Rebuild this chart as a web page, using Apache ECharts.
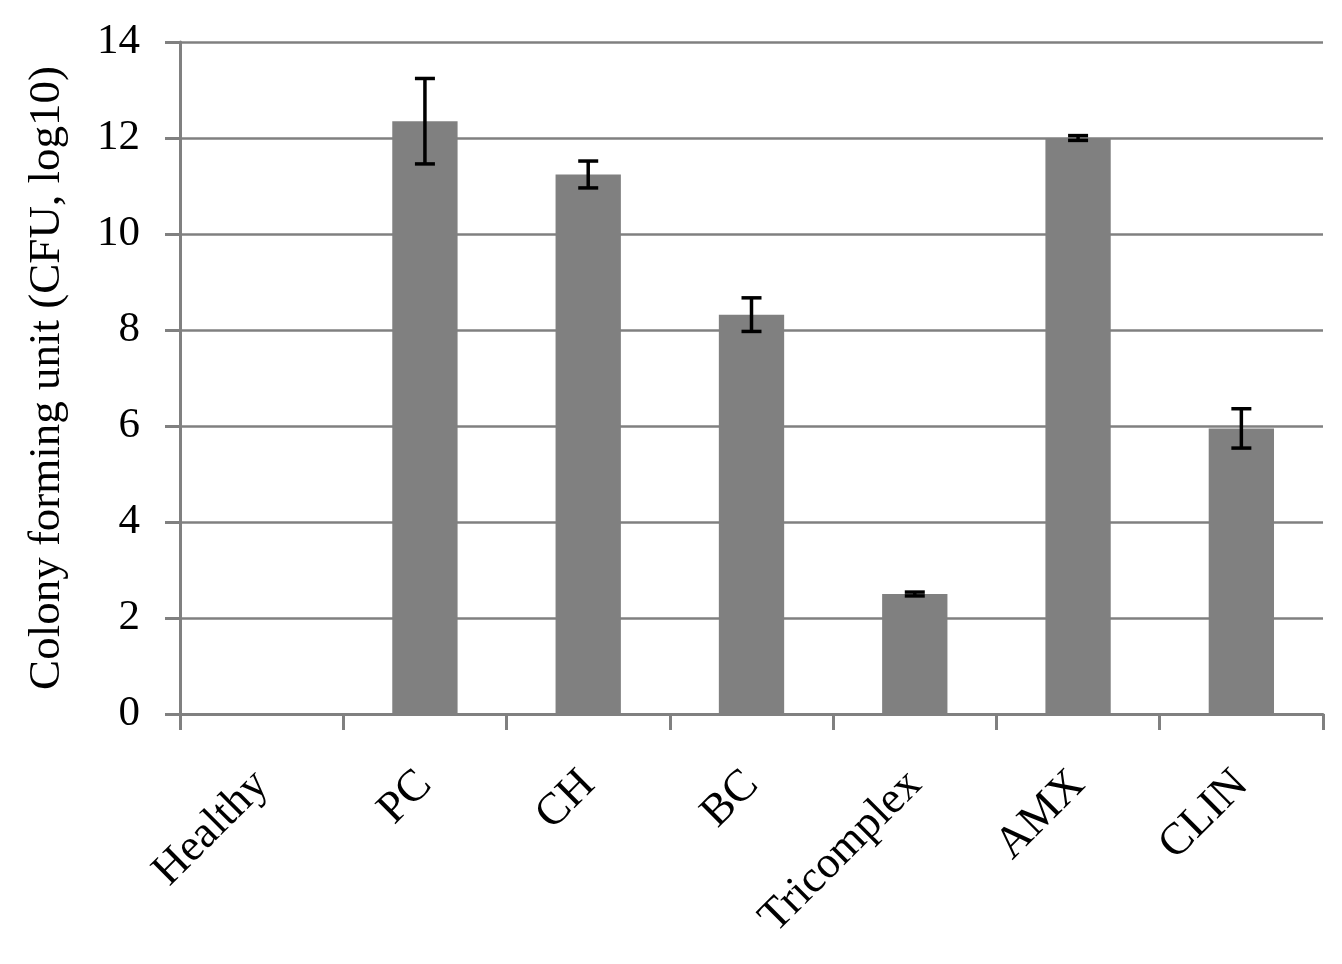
<!DOCTYPE html>
<html><head><meta charset="utf-8">
<script src="https://cdn.jsdelivr.net/npm/echarts@6/dist/echarts.min.js"></script>
<style>html,body{margin:0;padding:0;background:#fff}#c{width:1342px;height:964px}</style>
</head><body><div id="c"></div>
<script>
const categories = ['Healthy', 'PC', 'CH', 'BC', 'Tricomplex', 'AMX', 'CLIN'];
const values = [0, 12.35, 11.24, 8.32, 2.5, 12.0, 5.95];
const errors = [null, 0.89, 0.28, 0.35, 0.04, 0.05, 0.41];
const yTicks = {min: 0, max: 14, interval: 2};
const FONT = 'Liberation Serif';

const errData = categories.map((c, i) => errors[i] == null ? null : [i, values[i] - errors[i], values[i] + errors[i]]).filter(d => d);

const chart = echarts.init(document.getElementById('c'));
chart.setOption({
  animation: false,
  grid: {left: 180, right: 19, top: 42, bottom: 250},
  xAxis: {
    type: 'category', data: categories,
    axisLine: {lineStyle: {color: '#808080', width: 3}},
    axisTick: {show: true, length: 16, alignWithLabel: false, lineStyle: {color: '#808080', width: 3}},
    axisLabel: {rotate: 45, margin: 64, color: '#000', fontFamily: FONT, fontSize: 45, interval: 0}
  },
  yAxis: {
    type: 'value', min: yTicks.min, max: yTicks.max, interval: yTicks.interval,
    name: 'Colony forming unit (CFU, log10)', nameLocation: 'middle', nameGap: 110,
    nameTextStyle: {color: '#000', fontFamily: FONT, fontSize: 45},
    axisLine: {show: true, lineStyle: {color: '#808080', width: 3}},
    axisTick: {show: true, length: 15, lineStyle: {color: '#808080', width: 3}},
    axisLabel: {margin: 40, color: '#000', fontFamily: FONT, fontSize: 43},
    splitLine: {lineStyle: {color: '#808080', width: 2.5}}
  },
  series: [
    {type: 'bar', data: values, barWidth: '40%', itemStyle: {color: '#808080'}, z: 2},
    {type: 'custom', data: errData, z: 5,
      renderItem: function (params, api) {
        const x = api.value(0);
        const lo = api.coord([x, api.value(1)]);
        const hi = api.coord([x, api.value(2)]);
        const hw = 10;
        const st = {stroke: '#000', lineWidth: 3.5};
        return {type: 'group', children: [
          {type: 'line', shape: {x1: lo[0], y1: lo[1], x2: hi[0], y2: hi[1]}, style: st},
          {type: 'line', shape: {x1: lo[0]-hw, y1: lo[1], x2: lo[0]+hw, y2: lo[1]}, style: st},
          {type: 'line', shape: {x1: hi[0]-hw, y1: hi[1], x2: hi[0]+hw, y2: hi[1]}, style: st}
        ]};
      }
    }
  ]
});
</script></body></html>
